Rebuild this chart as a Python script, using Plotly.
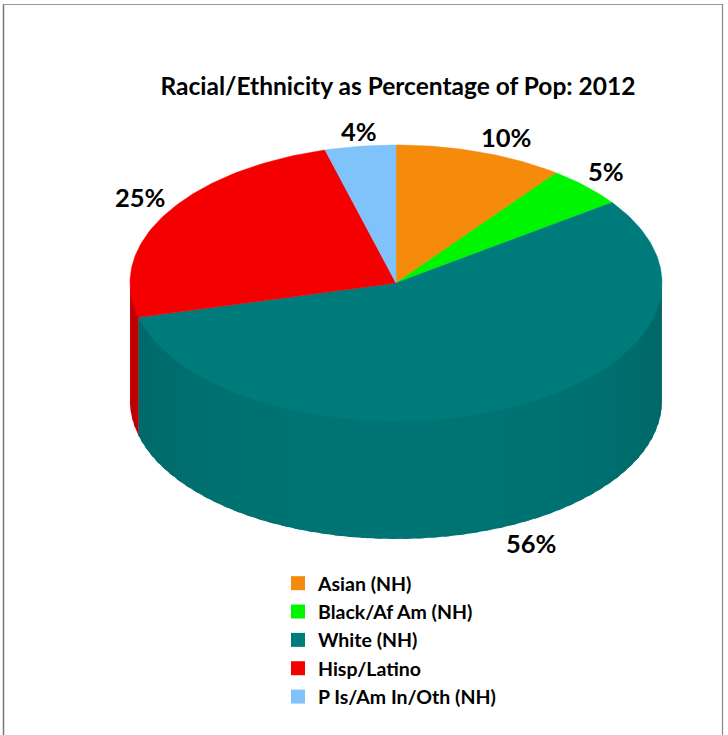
import math
import plotly.graph_objects as go

# ---- data ----
categories = ["Asian (NH)", "Black/Af Am (NH)", "White (NH)", "Hisp/Latino", "P Is/Am In/Oth (NH)"]
shares = [10.3, 4.8, 55.9, 24.7, 4.3]
colors = ["#F58A0B", "#00F500", "#007B7B", "#F50000", "#80C3FA"]
title_text = "Racial/Ethnicity as Percentage of Pop: 2012"

# ---- geometry of the drawing (page pixels) ----
W, H = 728, 735
CX, CY, RX, RY, DEPTH = 396, 283, 266, 138, 118
label_pos = [(506, 137), (606, 171), (531, 543), (140, 197), (359, 131)]
FONT = "Lato, Carlito, Calibri, sans-serif"


def pt(deg, dy=0.0):
    a = math.radians(deg)
    return CX + RX * math.sin(a), CY - RY * math.cos(a) + dy


def arc(a, b, dy=0.0, step=1.0):
    n = max(2, int(abs(b - a) / step) + 1)
    return [pt(a + (b - a) * i / (n - 1), dy) for i in range(n)]


def shade(hex_color, f):
    r, g, b = int(hex_color[1:3], 16), int(hex_color[3:5], 16), int(hex_color[5:7], 16)
    return f"rgb({r*f:.0f},{g*f:.0f},{b*f:.0f})"


fig = go.Figure()

# cumulative angles, clockwise from 12 o'clock
bounds = [0.0]
for s in shares:
    bounds.append(bounds[-1] + s * 360 / sum(shares))

# visible rim (front half of the disc), drawn as overlapping shaded strips
STRIP = 3.0
for i, col in enumerate(colors):
    a0, a1 = max(bounds[i], 90.0), min(bounds[i + 1], 270.0)
    if a1 <= a0:
        continue
    a = a0
    while a < a1 - 1e-6:
        b = min(a + STRIP, a1)
        end = min(b + 1.5, a1)
        mid = (a + b) / 2
        f = 0.81 + 0.13 * math.sin(math.radians(mid - 90)) ** 0.8 if col == "#007B7B" else 0.78
        c = shade(col, f)
        poly = arc(a, end, -2) + arc(end, a, DEPTH)
        poly.append(poly[0])
        fig.add_trace(go.Scatter(x=[p[0] for p in poly], y=[p[1] for p in poly], mode="lines",
                                 fill="toself", fillcolor=c, line=dict(width=0),
                                 showlegend=False, hoverinfo="skip"))
        a = b

# top face
for i, col in enumerate(colors):
    poly = [(CX, CY)] + arc(bounds[i], bounds[i + 1]) + [(CX, CY)]
    fig.add_trace(go.Scatter(x=[p[0] for p in poly], y=[p[1] for p in poly], mode="lines",
                             fill="toself", fillcolor=col, line=dict(color=col, width=0.5),
                             showlegend=False, hoverinfo="text",
                             text=f"{categories[i]}: {shares[i]:.0f}%"))

# legend entries
for i, (name, col) in enumerate(zip(categories, colors)):
    fig.add_trace(go.Scatter(x=[None], y=[None], mode="markers", name=name,
                             marker=dict(symbol="square", size=14, color=col)))

# percentage labels
for s, (x, y) in zip(shares, label_pos):
    fig.add_annotation(x=x, y=y, text=f"<b>{s:.0f}%</b>", showarrow=False,
                       font=dict(family=FONT, size=25.5, color="#000"))

fig.update_layout(
    width=W, height=H, autosize=False,
    margin=dict(l=0, r=0, t=0, b=0),
    paper_bgcolor="white", plot_bgcolor="white",
    title=dict(text=f"<b>{title_text}</b>", x=398 / W, y=1 - 86 / H, xanchor="center", yanchor="middle",
               font=dict(family=FONT, size=24.5, color="#000")),
    xaxis=dict(range=[0, W], visible=False, fixedrange=True),
    yaxis=dict(range=[H, 0], visible=False, fixedrange=True),
    legend=dict(x=278 / W, y=1 - 564 / H, xanchor="left", yanchor="top", tracegroupgap=0,
                font=dict(family=FONT, size=19.5, color="#000", weight=700), bgcolor="rgba(0,0,0,0)",
                itemwidth=30),
    shapes=[
        dict(type="line", xref="x", yref="y", x0=3.5, x1=3.5, y0=4, y1=H, line=dict(color="#777", width=1.5)),
        dict(type="line", xref="x", yref="y", x0=3, x1=722.5, y0=4.5, y1=4.5, line=dict(color="#999", width=1)),
        dict(type="line", xref="x", yref="y", x0=722.5, x1=722.5, y0=4, y1=H, line=dict(color="#888", width=1.2)),
    ],
)

fig.write_html("out.html", config=dict(displayModeBar=False),
               post_script="document.body.style.margin='0';document.documentElement.style.overflow='hidden';")
